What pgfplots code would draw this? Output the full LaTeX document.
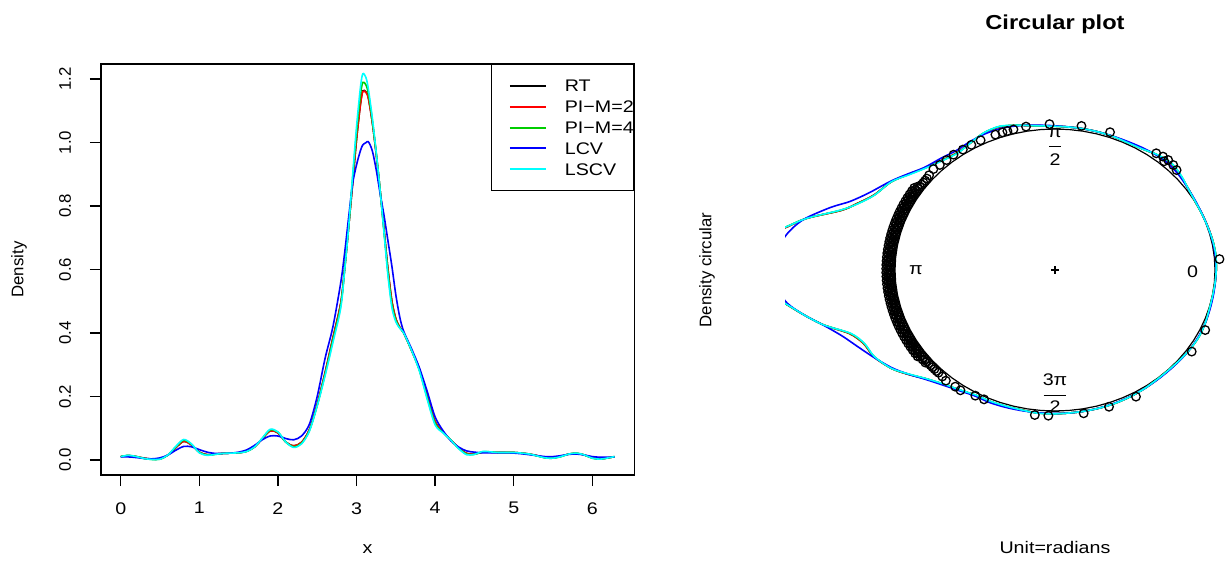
\documentclass[border=0pt]{standalone}
\usepackage{fontspec}
\setmainfont{Liberation Sans}[FakeStretch=1.17]
\newfontfamily\rotfont{Liberation Sans}
\usepackage{pgfplots}
\pgfplotsset{compat=1.18}
\usepackage{pgfplotstable}
\definecolor{rgreen}{HTML}{00CD00}
\definecolor{rcyan}{HTML}{00FFFF}
\definecolor{rred}{HTML}{FF0000}
\definecolor{rblue}{HTML}{0000FF}

\pgfplotstableread{
x RT PI2 PI4 LCV LSCV
0.00 0.010 0.010 0.010 0.009 0.010
0.10 0.013 0.013 0.014 0.009 0.014
0.20 0.010 0.010 0.010 0.007 0.010
0.30 0.005 0.005 0.004 0.004 0.004
0.40 0.002 0.002 0.001 0.003 0.001
0.50 0.003 0.003 0.002 0.006 0.002
0.60 0.015 0.015 0.015 0.015 0.015
0.70 0.038 0.038 0.040 0.030 0.042
0.80 0.058 0.058 0.062 0.042 0.064
0.90 0.047 0.047 0.049 0.041 0.050
1.00 0.024 0.024 0.023 0.032 0.022
1.10 0.016 0.016 0.015 0.024 0.014
1.20 0.018 0.018 0.017 0.020 0.017
1.30 0.020 0.020 0.020 0.020 0.020
1.40 0.021 0.021 0.021 0.021 0.021
1.50 0.022 0.022 0.022 0.024 0.022
1.60 0.027 0.027 0.026 0.031 0.026
1.70 0.040 0.040 0.040 0.045 0.040
1.80 0.066 0.066 0.067 0.063 0.068
1.90 0.091 0.091 0.094 0.075 0.096
2.00 0.085 0.085 0.087 0.075 0.088
2.10 0.056 0.056 0.056 0.067 0.056
2.20 0.044 0.044 0.041 0.063 0.039
2.30 0.055 0.055 0.052 0.075 0.050
2.40 0.095 0.095 0.092 0.112 0.090
2.50 0.175 0.175 0.172 0.200 0.170
2.60 0.275 0.275 0.270 0.320 0.265
2.70 0.385 0.385 0.378 0.420 0.370
2.80 0.495 0.495 0.488 0.560 0.480
2.85 0.605 0.605 0.605 0.655 0.600
2.90 0.735 0.735 0.735 0.765 0.735
2.95 0.870 0.870 0.885 0.870 0.895
3.00 1.010 1.010 1.030 0.930 1.050
3.05 1.122 1.120 1.150 0.975 1.175
3.08 1.163 1.161 1.190 0.993 1.217
3.12 1.160 1.158 1.182 1.000 1.205
3.15 1.142 1.140 1.155 1.003 1.170
3.20 1.065 1.065 1.072 0.975 1.080
3.25 0.965 0.965 0.968 0.915 0.970
3.30 0.850 0.850 0.850 0.840 0.850
3.35 0.725 0.725 0.720 0.770 0.715
3.40 0.600 0.600 0.590 0.690 0.580
3.45 0.500 0.500 0.490 0.610 0.480
3.50 0.445 0.445 0.440 0.520 0.435
3.55 0.418 0.418 0.416 0.450 0.415
3.60 0.400 0.400 0.400 0.405 0.400
3.70 0.345 0.345 0.345 0.350 0.345
3.80 0.285 0.285 0.282 0.290 0.280
3.90 0.200 0.200 0.195 0.215 0.190
4.00 0.120 0.120 0.115 0.135 0.110
4.10 0.088 0.088 0.086 0.092 0.085
4.20 0.062 0.062 0.062 0.060 0.062
4.30 0.038 0.038 0.036 0.040 0.035
4.40 0.020 0.020 0.018 0.028 0.016
4.50 0.018 0.018 0.017 0.024 0.017
4.60 0.024 0.024 0.025 0.022 0.026
4.70 0.024 0.024 0.025 0.022 0.025
4.80 0.023 0.023 0.023 0.022 0.023
4.90 0.023 0.023 0.023 0.022 0.023
5.00 0.023 0.023 0.023 0.021 0.023
5.10 0.021 0.021 0.021 0.019 0.021
5.20 0.018 0.018 0.018 0.016 0.018
5.30 0.013 0.013 0.012 0.013 0.012
5.40 0.007 0.007 0.006 0.010 0.006
5.50 0.006 0.006 0.005 0.010 0.005
5.60 0.011 0.011 0.010 0.013 0.010
5.70 0.018 0.018 0.018 0.017 0.018
5.80 0.020 0.020 0.021 0.018 0.021
5.90 0.015 0.015 0.015 0.015 0.015
6.00 0.006 0.006 0.005 0.010 0.005
6.10 0.003 0.003 0.002 0.008 0.002
6.20 0.006 0.006 0.006 0.008 0.006
6.283 0.010 0.010 0.010 0.009 0.010
}\dens

\pgfplotstableread{
deg RT PI2 PI4 LCV LSCV
0 1.008 1.008 1.008 1.007 1.008
5.73 1.010 1.010 1.011 1.007 1.011
11.46 1.008 1.008 1.008 1.006 1.008
17.19 1.004 1.004 1.003 1.003 1.003
22.92 1.002 1.002 1.001 1.002 1.001
28.65 1.002 1.002 1.002 1.005 1.002
34.38 1.012 1.012 1.012 1.012 1.012
40.11 1.030 1.030 1.032 1.024 1.034
45.84 1.046 1.046 1.049 1.034 1.051
51.57 1.038 1.038 1.039 1.033 1.040
57.30 1.019 1.019 1.018 1.026 1.018
63.03 1.013 1.013 1.012 1.019 1.011
68.75 1.014 1.014 1.014 1.016 1.014
74.48 1.016 1.016 1.016 1.016 1.016
80.21 1.017 1.017 1.017 1.017 1.017
85.94 1.018 1.018 1.018 1.019 1.018
91.67 1.022 1.022 1.021 1.025 1.021
97.40 1.032 1.032 1.032 1.036 1.032
103.13 1.053 1.053 1.054 1.050 1.054
108.86 1.073 1.073 1.075 1.060 1.077
114.59 1.068 1.068 1.069 1.060 1.070
120.32 1.045 1.045 1.045 1.054 1.045
126.05 1.032 1.032 1.030 1.048 1.028
132 1.050 1.050 1.048 1.066 1.046
138.4 1.090 1.090 1.088 1.094 1.086
143.5 1.140 1.140 1.138 1.145 1.135
148.5 1.199 1.199 1.199 1.205 1.199
154.8 1.250 1.250 1.248 1.285 1.247
159.2 1.325 1.325 1.322 1.370 1.320
162.4 1.400 1.400 1.403 1.470 1.406
166.7 1.594 1.594 1.594 1.600 1.594
169.6 1.700 1.700 1.705 1.665 1.705
172 1.800 1.800 1.810 1.704 1.820
176 1.900 1.900 1.950 1.760 2.000
180 1.930 1.930 1.960 1.800 2.000
184 1.850 1.850 1.860 1.750 1.880
188 1.704 1.704 1.704 1.690 1.704
191.5 1.600 1.600 1.600 1.600 1.600
195.1 1.497 1.497 1.497 1.500 1.497
199.4 1.360 1.360 1.356 1.410 1.353
203.6 1.305 1.305 1.302 1.350 1.300
208.6 1.288 1.288 1.286 1.292 1.285
214.3 1.238 1.238 1.238 1.232 1.238
218.8 1.180 1.180 1.178 1.178 1.176
223.4 1.120 1.120 1.119 1.125 1.118
228.7 1.074 1.074 1.072 1.080 1.071
234.9 1.040 1.040 1.039 1.045 1.038
240.8 1.018 1.018 1.017 1.024 1.016
246.4 1.017 1.017 1.016 1.025 1.015
252.1 1.016 1.016 1.014 1.022 1.013
257.8 1.014 1.014 1.014 1.019 1.014
263.6 1.019 1.019 1.020 1.018 1.021
269.3 1.019 1.019 1.020 1.018 1.020
275.0 1.018 1.018 1.018 1.018 1.018
280.7 1.018 1.018 1.018 1.018 1.018
286.5 1.018 1.018 1.018 1.017 1.018
292.2 1.017 1.017 1.017 1.015 1.017
297.9 1.014 1.014 1.014 1.013 1.014
303.7 1.010 1.010 1.010 1.010 1.010
309.4 1.006 1.006 1.005 1.008 1.005
315.1 1.005 1.005 1.004 1.008 1.004
320.9 1.009 1.009 1.008 1.010 1.008
326.6 1.014 1.014 1.014 1.014 1.014
332.3 1.016 1.016 1.017 1.014 1.017
338.0 1.012 1.012 1.012 1.012 1.012
343.8 1.005 1.005 1.004 1.008 1.004
349.5 1.002 1.002 1.002 1.006 1.002
355.2 1.005 1.005 1.005 1.006 1.005
360 1.008 1.008 1.008 1.007 1.008
}\circdens

\begin{document}
\begin{tikzpicture}[font=\fontsize{8.4}{10}\selectfont]
\path[use as bounding box] (0,0) rectangle (614pt,281.5pt);
\begin{axis}[
  scale only axis, width=266.65pt, height=205.5pt,
  at={(50.5pt,44pt)}, anchor=south west,
  xmin=-0.251, xmax=6.534, ymin=-0.048, ymax=1.248,
  xtick={0,1,2,3,4,5,6}, ytick={0,0.2,0.4,0.6,0.8,1.0,1.2},
  xtick pos=left, ytick pos=left, tick align=outside,
  major tick length=5.6pt,
  axis line style={line width=0.75pt},
  every tick/.style={black, line width=0.75pt},
  /pgf/number format/assume math mode=true,
  yticklabel style={rotate=90, anchor=south, inner sep=0pt,
    font=\rotfont\fontsize{8.4}{10}\selectfont,
    /pgf/number format/fixed, /pgf/number format/fixed zerofill,
    /pgf/number format/precision=1},
  xticklabel style={anchor=north, inner sep=0pt},
  xticklabel shift=7.9pt, yticklabel shift=9.2pt,
  xlabel={x}, ylabel={Density},
  xlabel style={at={(axis description cs:0.5,-0.1905)}, anchor=base},
  ylabel style={at={(axis description cs:-0.1538,0.5)}, anchor=center,
    font=\rotfont\fontsize{8.4}{10}\selectfont},
  legend style={at={(1,1)}, anchor=north east, draw=black, line width=0.6pt,
    fill=white, inner xsep=0pt, inner ysep=7.6pt, row sep=4.45pt,
    column sep=0pt,
    nodes={inner sep=0pt, text height=6pt, text depth=0pt}},
  legend cell align=left,
  legend image code/.code={\path (-8.7pt,0pt) (27.1pt,0pt); \draw[#1,line width=1pt] (0pt,0pt) -- (18.3pt,0pt);},
]
\addplot[black, line width=0.8pt, smooth, tension=0.5] table[x=x,y=RT]{\dens};
\addlegendentry{RT}
\addplot[rred, line width=0.8pt, smooth, tension=0.5] table[x=x,y=PI2]{\dens};
\addlegendentry{PI−M=2}
\addplot[rgreen, line width=0.8pt, smooth, tension=0.5] table[x=x,y=PI4]{\dens};
\addlegendentry{PI−M=4}
\addplot[rblue, line width=0.8pt, smooth, tension=0.5] table[x=x,y=LCV]{\dens};
\addlegendentry{LCV}
\addplot[rcyan, line width=0.8pt, smooth, tension=0.5] table[x=x,y=LSCV]{\dens};
\addlegendentry{LSCV}
\end{axis}

\begin{axis}[
  scale only axis, width=239pt, height=267.9pt,
  at={(392.5pt,12.55pt)}, anchor=south west,
  xmin=-1.6875, xmax=1.3, ymin=-1.9, ymax=1.9,
  axis lines=none, clip=true,
]
\addplot[black, line width=0.6pt, data cs=polar] coordinates {
(0,1) (5,1) (10,1) (15,1) (20,1) (25,1) (30,1) (35,1) (40,1) (45,1) (50,1) (55,1)
(60,1) (65,1) (70,1) (75,1) (80,1) (85,1) (90,1) (95,1) (100,1) (105,1) (110,1) (115,1)
(120,1) (125,1) (130,1) (135,1) (140,1) (145,1) (150,1) (155,1) (160,1) (165,1) (170,1) (175,1)
(180,1) (185,1) (190,1) (195,1) (200,1) (205,1) (210,1) (215,1) (220,1) (225,1) (230,1) (235,1)
(240,1) (245,1) (250,1) (255,1) (260,1) (265,1) (270,1) (275,1) (280,1) (285,1) (290,1) (295,1)
(300,1) (305,1) (310,1) (315,1) (320,1) (325,1) (330,1) (335,1) (340,1) (345,1) (350,1) (355,1) (360,1)};
\addplot[only marks, mark=o, mark size=2.15pt, mark options={black, line width=0.65pt}, data cs=polar] coordinates {
(4.3,1.031) (335.6,1.031) (325.9,1.032) (299.4,1.031) (289.2,1.027) (280,1.032) (267.7,1.034) (263,1.036)
(70.6,1.036) (80.8,1.035) (91.9,1.035) (100.1,1.033) (104.6,1.03) (106.8,1.03) (108.6,1.03) (111.2,1.03)
(116.8,1.031) (120.5,1.03) (124,1.03) (127.8,1.035) (131,1.033) (134,1.036) (136.7,1.044) (139.5,1.035)
(43,1.039) (45.2,1.049) (47.8,1.053) (50,1.05) (52.6,1.042) (48.5,1.03)
(227,1.033) (229,1.04) (233,1.036) (235.3,1.038) (240.8,1.021) (244.2,1.019)
(141,1.03) (142,1.03) (143,1.03) (144,1.03) (145,1.03) (146,1.03) (147,1.03) (148,1.03) (149,1.03) (150,1.03)
(151,1.03) (152,1.03) (153,1.03) (154,1.03) (155,1.03) (156,1.03) (157,1.03) (158,1.03) (159,1.03) (160,1.03)
(161,1.03) (162,1.03) (163,1.03) (164,1.03) (165,1.03) (166,1.03) (167,1.03) (168,1.03) (169,1.03) (170,1.03)
(171,1.03) (172,1.03) (173,1.03) (174,1.03) (175,1.03) (176,1.03) (177,1.03) (178,1.03) (179,1.03) (180,1.03)
(181,1.03) (182,1.03) (183,1.03) (184,1.03) (185,1.03) (186,1.03) (187,1.03) (188,1.03) (189,1.03) (190,1.03)
(191,1.03) (192,1.03) (193,1.03) (194,1.03) (195,1.03) (196,1.03) (197,1.03) (198,1.03) (199,1.03) (200,1.03)
(201,1.03) (202,1.03) (203,1.03) (204,1.03) (205,1.03) (206,1.03) (207,1.03) (208,1.03) (209,1.03) (210,1.03)
(211,1.03) (212,1.03) (213,1.03) (214,1.03) (215,1.03) (216,1.03) (217,1.03) (218,1.03) (219,1.03) (220,1.03)
(221,1.03) (222,1.03) (223,1.03) (224,1.03) (225,1.03)
(145.5,1.043) (147,1.043) (148.5,1.043) (150,1.043) (151.5,1.043) (153,1.043) (154.5,1.043) (156,1.043)
(157.5,1.043) (159,1.043) (160.5,1.043) (162,1.043) (163.5,1.043) (165,1.043) (166.5,1.043) (168,1.043)
(169.5,1.043) (171,1.043) (172.5,1.043) (174,1.043) (175.5,1.043) (177,1.043) (178.5,1.043) (180,1.043)
(181.5,1.043) (183,1.043) (184.5,1.043) (186,1.043) (187.5,1.043) (189,1.043) (190.5,1.043) (192,1.043)
(193.5,1.043) (195,1.043) (196.5,1.043) (198,1.043) (199.5,1.043) (201,1.043) (202.5,1.043) (204,1.043)
(205.5,1.043) (207,1.043) (208.5,1.043) (210,1.043) (211.5,1.043) (213,1.043) (214.5,1.043) (216,1.043)
(217.5,1.043) (219,1.043)
(146.5,1.055) (148,1.055) (149.5,1.055) (151,1.055) (152.5,1.055) (154,1.055) (155.5,1.055) (157,1.055)
(158.5,1.055) (160,1.055) (161.5,1.055) (163,1.055) (164.5,1.055) (166,1.055) (167.5,1.055) (169,1.055)
(170.5,1.055) (172,1.055) (173.5,1.055) (175,1.055) (176.5,1.055) (178,1.055) (179.5,1.055) (181,1.055)
(182.5,1.055) (184,1.055) (185.5,1.055) (187,1.055) (188.5,1.055) (190,1.055) (191.5,1.055) (193,1.055)
(194.5,1.055) (196,1.055) (197.5,1.055) (199,1.055) (200.5,1.055) (202,1.055) (203.5,1.055) (205,1.055)
(206.5,1.055) (208,1.055) (209.5,1.055) (211,1.055) (212.5,1.055) (214,1.055) (215.5,1.055)};
\addplot[black, line width=0.8pt, smooth, tension=0.5, data cs=polar] table[x=deg,y=RT]{\circdens};
\addplot[rred, line width=0.8pt, smooth, tension=0.5, data cs=polar] table[x=deg,y=PI2]{\circdens};
\addplot[rgreen, line width=0.8pt, smooth, tension=0.5, data cs=polar] table[x=deg,y=PI4]{\circdens};
\addplot[rblue, line width=0.8pt, smooth, tension=0.5, data cs=polar] table[x=deg,y=LCV]{\circdens};
\addplot[rcyan, line width=0.8pt, smooth, tension=0.5, data cs=polar] table[x=deg,y=LSCV]{\circdens};
\addplot[only marks, mark=+, mark size=1.9pt, mark options={black, line width=0.6pt}] coordinates {(0,0)};
\node at (axis cs:0,0.97) {π};
\node[inner sep=0pt] at (axis cs:0,0.874) {\rule{5.8pt}{0.45pt}};
\node at (axis cs:0,0.78) {2};
\node at (axis cs:0,-0.78) {3π};
\node[inner sep=0pt] at (axis cs:0,-0.887) {\rule{11.3pt}{0.45pt}};
\node at (axis cs:0,-0.97) {2};
\node at (axis cs:0.86,-0.011) {0};
\node at (axis cs:-0.87,0) {π};
\end{axis}

\node[anchor=base, font=\bfseries\fontsize{10.1}{12}\selectfont] at (527.5pt,266.8pt) {Circular plot};
\node[rotate=90, font=\rotfont\fontsize{8.4}{10}\selectfont] at (353.5pt,146.5pt) {Density circular};
\node[anchor=base] at (527.5pt,4.85pt) {Unit=radians};
\end{tikzpicture}
\end{document}
